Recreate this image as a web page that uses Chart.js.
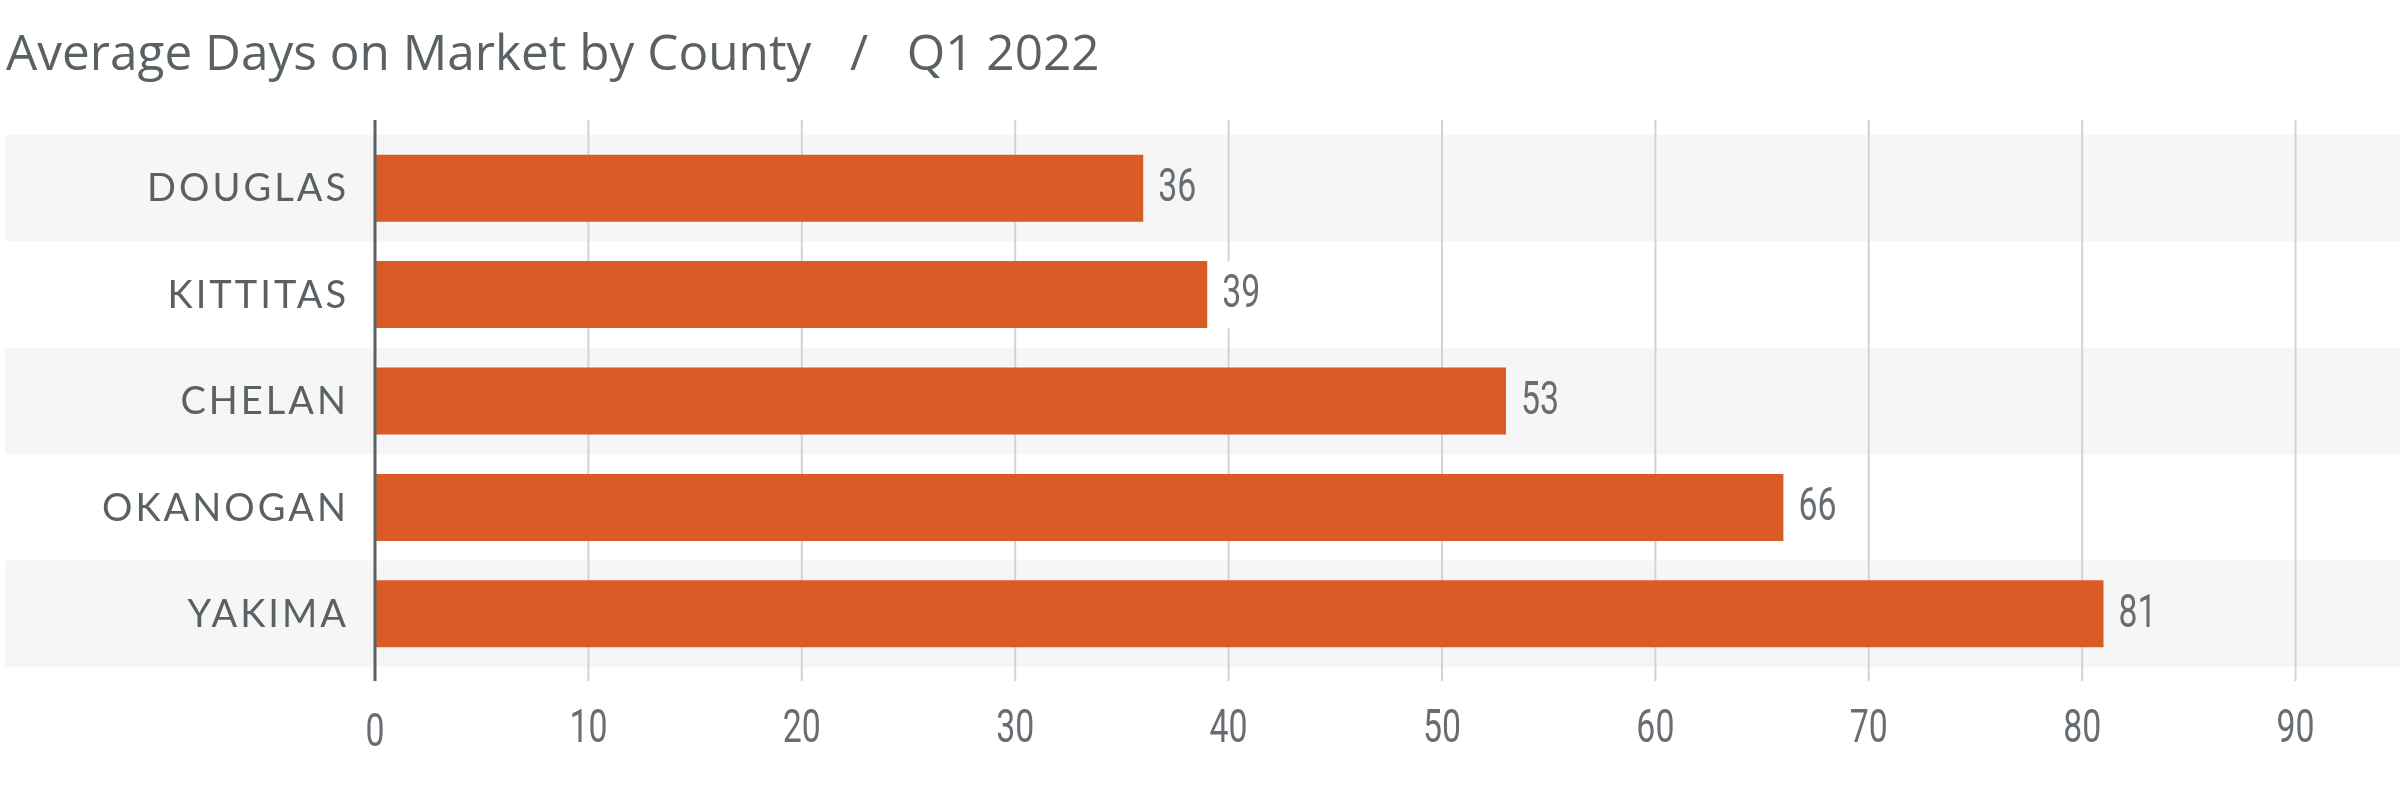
<!DOCTYPE html>
<html>
<head>
<meta charset="utf-8">
<script src="https://cdn.jsdelivr.net/npm/chart.js@4.4.1/dist/chart.umd.min.js"></script>
<style>
  html, body { margin: 0; padding: 0; background: #fff; }
  #wrap { width: 2400px; height: 802px; }
</style>
</head>
<body>
<div id="wrap"><canvas id="chart" width="2400" height="802"></canvas></div>
<script>
const counties = ['DOUGLAS', 'KITTITAS', 'CHELAN', 'OKANOGAN', 'YAKIMA'];
const avgDays = [36, 39, 53, 66, 81];
const xTicks = [0, 10, 20, 30, 40, 50, 60, 70, 80, 90];
const chartTitle = 'Average Days on Market by County   /   Q1 2022';

const BAR_COLOR = '#db5b27';
const BAND_COLOR = '#f6f6f6';
const TEXT_GRAY = '#5a6165';
const NUM_GRAY = '#676d72';
const NUM_FONT = '47px Roboto';
const SQUEEZE = 0.72; // the numbers use a condensed face

function condensedText(ctx, txt, x, y, align) {
  ctx.save();
  ctx.font = NUM_FONT;
  ctx.textBaseline = 'middle';
  ctx.textAlign = align;
  ctx.translate(x, y);
  ctx.scale(SQUEEZE, 1);
  ctx.fillText(txt, 0, 0);
  ctx.restore();
}

// bands, grid, axis line, category labels, tick labels and value labels
const decor = {
  id: 'decor',
  beforeDatasetsDraw(chart) {
    const { ctx, chartArea, scales: { x, y } } = chart;
    const half = (y.getPixelForTick(1) - y.getPixelForTick(0)) / 2;
    ctx.save();

    counties.forEach((c, i) => {
      if (i % 2) return;
      const cy = y.getPixelForTick(i);
      ctx.fillStyle = BAND_COLOR;
      ctx.fillRect(5, cy - half, chart.width - 5, half * 2);
    });

    ctx.strokeStyle = '#d2d3d4';
    ctx.lineWidth = 2;
    xTicks.slice(1).forEach(v => {
      const px = x.getPixelForValue(v);
      ctx.beginPath();
      ctx.moveTo(px, chartArea.top - 15);
      ctx.lineTo(px, chartArea.bottom + 14);
      ctx.stroke();
    });

    ctx.font = "38px Lato";
    ctx.letterSpacing = '3px';
    ctx.fillStyle = TEXT_GRAY;
    ctx.textAlign = 'right';
    ctx.textBaseline = 'middle';
    counties.forEach((c, i) => {
      ctx.fillText(c, chartArea.left - 26, y.getPixelForTick(i) + 1);
    });
    ctx.restore();

    ctx.fillStyle = NUM_GRAY;
    xTicks.forEach(v => {
      const dy = v === 0 ? 4 : 0;
      condensedText(ctx, String(v), x.getPixelForValue(v), chartArea.bottom + 63 + dy, 'center');
    });
  },
  afterDatasetsDraw(chart) {
    const { ctx, chartArea, scales: { x } } = chart;
    const bars = chart.getDatasetMeta(0).data;
    ctx.save();
    ctx.font = NUM_FONT;
    bars.forEach((bar, i) => {
      const txt = String(avgDays[i]);
      const w = ctx.measureText(txt).width * SQUEEZE;
      const top = bar.y - bar.height / 2;
      ctx.fillStyle = i % 2 ? '#ffffff' : BAND_COLOR;
      ctx.fillRect(bar.x + 3, top, w + 22, bar.height);
      ctx.fillStyle = NUM_GRAY;
      condensedText(ctx, txt, bar.x + 15, bar.y + 1, 'left');
    });

    const x0 = x.getPixelForValue(0);
    ctx.strokeStyle = '#5b6266';
    ctx.lineWidth = 3;
    ctx.beginPath();
    ctx.moveTo(x0, chartArea.top - 15);
    ctx.lineTo(x0, chartArea.bottom + 14);
    ctx.stroke();
    ctx.restore();
  }
};

new Chart(document.getElementById('chart'), {
  type: 'bar',
  data: {
    labels: counties,
    datasets: [{
      data: avgDays,
      backgroundColor: BAR_COLOR,
      borderWidth: 0,
      barPercentage: 0.63,
      categoryPercentage: 1.0
    }]
  },
  options: {
    indexAxis: 'y',
    responsive: false,
    animation: false,
    layout: { padding: { left: 6, right: 2, top: 0, bottom: 0 } },
    plugins: {
      legend: { display: false },
      tooltip: { enabled: false },
      title: {
        display: true,
        text: chartTitle,
        align: 'start',
        color: TEXT_GRAY,
        font: { family: "'Open Sans'", size: 49.5, weight: 'normal' },
        padding: { top: 26, bottom: 49.6 }
      }
    },
    scales: {
      x: {
        min: 0,
        max: 94.8,
        grid: { display: false, drawTicks: false },
        border: { display: false },
        afterBuildTicks: s => { s.ticks = xTicks.map(v => ({ value: v })); },
        afterFit: s => { s.height = 135; },
        ticks: { display: false }
      },
      y: {
        grid: { display: false, drawTicks: false },
        border: { display: false },
        ticks: { display: false },
        afterFit: s => { s.width = 369; }
      }
    }
  },
  plugins: [decor]
});
</script>
</body>
</html>
